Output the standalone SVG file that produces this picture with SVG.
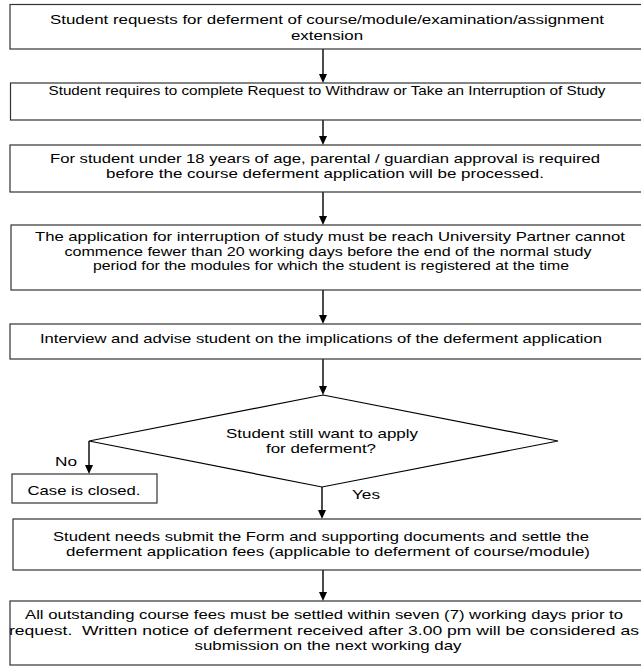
<svg xmlns="http://www.w3.org/2000/svg" width="641" height="666" viewBox="0 0 641 666">
<style>
  .box { fill: #fff; stroke: #333; stroke-width: 1.2; }
  .t { font-family: "Liberation Sans", Arial, sans-serif; font-size: 13px; fill: #000; }
  .c { text-anchor: middle; }
  .conn { stroke: #000; stroke-width: 1.4; fill: none; }
</style>
<defs>
  <marker id="ah" markerWidth="8" markerHeight="10" refX="4" refY="10" orient="auto" markerUnits="userSpaceOnUse" viewBox="0 0 8 10">
    <path d="M0,0 L8,0 L4,10 Z" fill="#000"/>
  </marker>
</defs>
<rect width="641" height="666" fill="#fff"/>

<g id="connectors">
  <line class="conn" x1="323" y1="49" x2="323" y2="74" />
  <path d="M319,74 L327,74 L323,83 Z" fill="#000"/>
  <line class="conn" x1="323" y1="120" x2="323" y2="136" />
  <path d="M319,136 L327,136 L323,145 Z" fill="#000"/>
  <line class="conn" x1="323" y1="192" x2="323" y2="216" />
  <path d="M319,216 L327,216 L323,225 Z" fill="#000"/>
  <line class="conn" x1="323" y1="290" x2="323" y2="315" />
  <path d="M319,315 L327,315 L323,324 Z" fill="#000"/>
  <line class="conn" x1="323" y1="359" x2="323" y2="386" />
  <path d="M319,386 L327,386 L323,395 Z" fill="#000"/>
  <line class="conn" x1="89" y1="441" x2="89" y2="465" />
  <path d="M85,465 L93,465 L89,474 Z" fill="#000"/>
  <line class="conn" x1="322" y1="487" x2="322" y2="510" />
  <path d="M318,510 L326,510 L322,519 Z" fill="#000"/>
  <line class="conn" x1="323" y1="570" x2="323" y2="592" />
  <path d="M319,592 L327,592 L323,601 Z" fill="#000"/>
  <text class="t" x="55" y="466" textLength="22" lengthAdjust="spacingAndGlyphs">No</text>
  <text class="t" x="352" y="499" textLength="28" lengthAdjust="spacingAndGlyphs">Yes</text>
</g>

<g id="n1">
  <rect class="box" x="10" y="4.5" width="640" height="44.5"/>
  <text class="t c" x="327" y="24" font-size="13.5" textLength="554" lengthAdjust="spacingAndGlyphs">Student requests for deferment of course/module/examination/assignment</text>
  <text class="t c" x="327" y="40" font-size="13.5" textLength="72" lengthAdjust="spacingAndGlyphs">extension</text>
</g>

<g id="n2">
  <rect class="box" x="10.5" y="83" width="640" height="37"/>
  <text class="t c" x="327" y="94.5" textLength="557" lengthAdjust="spacingAndGlyphs">Student requires to complete Request to Withdraw or Take an Interruption of Study</text>
</g>

<g id="n3">
  <rect class="box" x="10" y="145" width="640" height="47"/>
  <text class="t c" x="325" y="163" textLength="550" lengthAdjust="spacingAndGlyphs">For student under 18 years of age, parental / guardian approval is required</text>
  <text class="t c" x="325" y="178" textLength="438" lengthAdjust="spacingAndGlyphs">before the course deferment application will be processed.</text>
</g>

<g id="n4">
  <rect class="box" x="11" y="225" width="640" height="65"/>
  <text class="t c" x="330" y="241" textLength="590" lengthAdjust="spacingAndGlyphs">The application for interruption of study must be reach University Partner cannot</text>
  <text class="t c" x="328" y="255.5" textLength="527" lengthAdjust="spacingAndGlyphs">commence fewer than 20 working days before the end of the normal study</text>
  <text class="t c" x="331" y="270" textLength="476" lengthAdjust="spacingAndGlyphs">period for the modules for which the student is registered at the time</text>
</g>

<g id="n5">
  <rect class="box" x="10" y="324" width="640" height="35"/>
  <text class="t c" x="321" y="343" textLength="562" lengthAdjust="spacingAndGlyphs">Interview and advise student on the implications of the deferment application</text>
</g>

<g id="n6">
  <polygon class="box" points="323,395 558,441 322,487 89,441" style="stroke:#000"/>
  <text class="t c" x="322" y="438" textLength="192" lengthAdjust="spacingAndGlyphs">Student still want to apply</text>
  <text class="t c" x="321" y="453" textLength="110" lengthAdjust="spacingAndGlyphs">for deferment?</text>
</g>

<g id="n7">
  <rect class="box" x="12" y="474" width="145" height="29"/>
  <text class="t c" x="84" y="495" textLength="113" lengthAdjust="spacingAndGlyphs">Case is closed.</text>
</g>

<g id="n8">
  <rect class="box" x="13" y="519" width="640" height="51"/>
  <text class="t c" x="321" y="540.5" textLength="536" lengthAdjust="spacingAndGlyphs">Student needs submit the Form and supporting documents and settle the</text>
  <text class="t c" x="328" y="556" textLength="524" lengthAdjust="spacingAndGlyphs">deferment application fees (applicable to deferment of course/module)</text>
</g>

<g id="n9">
  <rect class="box" x="10" y="601" width="640" height="64"/>
  <text class="t c" x="324" y="619" textLength="598" lengthAdjust="spacingAndGlyphs">All outstanding course fees must be settled within seven (7) working days prior to</text>
  <text class="t c" x="324" y="634.5" textLength="630" lengthAdjust="spacingAndGlyphs" xml:space="preserve">request.  Written notice of deferment received after 3.00 pm will be considered as</text>
  <text class="t c" x="328" y="650" textLength="267" lengthAdjust="spacingAndGlyphs">submission on the next working day</text>
</g>
</svg>
